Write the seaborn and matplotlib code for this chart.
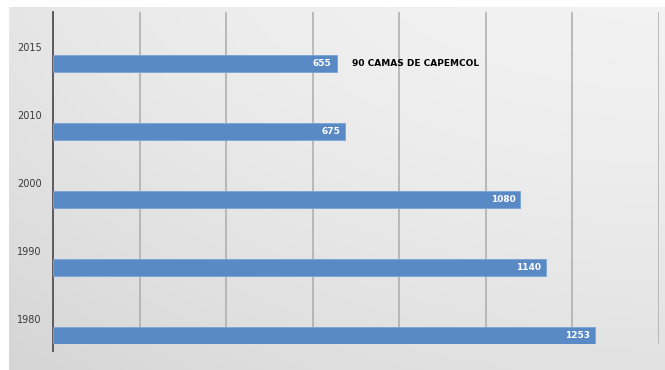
import numpy as np
import pandas as pd
import matplotlib
matplotlib.use("Agg")
import matplotlib.pyplot as plt
import seaborn as sns

years = ["2015", "2010", "2000", "1990", "1980"]
values = [655, 675, 1080, 1140, 1253]
annotation = "90 CAMAS DE CAPEMCOL"

df = pd.DataFrame({"year": years, "value": values})

sns.set_style("white")
plt.rcParams["font.family"] = ["DejaVu Sans"]

W, H = 665, 370
fig = plt.figure(figsize=(W / 100, H / 100), dpi=100, facecolor="white")

# gray gradient background panel (screenshot look)
bg = fig.add_axes([9 / W, 0, 1 - 9 / W, 1 - 7 / H])
bg.set_axis_off()
yy, xx = np.mgrid[0:1:200j, 0:1:300j]
shade = 0.935 - 0.05 * ((1 - xx) ** 2) - 0.05 * (yy ** 1.5) + 0.015 * (1 - yy)
shade = np.clip(shade, 0.82, 0.96)
bg.imshow(np.dstack([shade] * 3), aspect="auto", extent=[0, 1, 0, 1], origin="upper")

ax = fig.add_axes([53 / W, 1 - 344 / H, (659 - 53) / W, (344 - 12) / H])
ax.patch.set_alpha(0)

sns.barplot(data=df, x="value", y="year", order=years, orient="h",
            color="#5a8ac6", width=0.25, ax=ax, saturation=1, zorder=3,
            edgecolor="#7aa3d6", linewidth=0.6)

ax.set_xlim(0, 1400)
ax.set_ylim(4.12, -0.765)
ax.set_xticks(np.arange(0, 1401, 200))
ax.set_xticklabels([])
ax.grid(axis="x", color="#ababab", linewidth=1.1, zorder=0)
ax.set_axisbelow(True)
ax.tick_params(axis="x", length=5, width=1.2, color="#8c8c8c", direction="out")

ax.set_yticks([i - 0.25 for i in range(len(years))])
ax.set_yticklabels(years, fontsize=7, color="#3a3a3a")
ax.tick_params(axis="y", length=0, pad=8)
ax.set_xlabel("")
ax.set_ylabel("")

for s in ["top", "right", "bottom"]:
    ax.spines[s].set_visible(False)
ax.spines["left"].set_color("#5c5c5c")
ax.spines["left"].set_linewidth(1.4)
ax.spines["left"].set_bounds(4.12 + 0.1, -0.765)
ax.spines["left"].set_clip_on(False)

for i, v in enumerate(values):
    ax.text(v - 12, i, str(v), ha="right", va="center", color="white",
            fontsize=6.5, fontweight="bold", zorder=4)

ax.text(691, 0, annotation, ha="left", va="center", color="black",
        fontsize=6.5, fontweight="bold", zorder=4)

fig.savefig("out.png", dpi=100, facecolor="white")
